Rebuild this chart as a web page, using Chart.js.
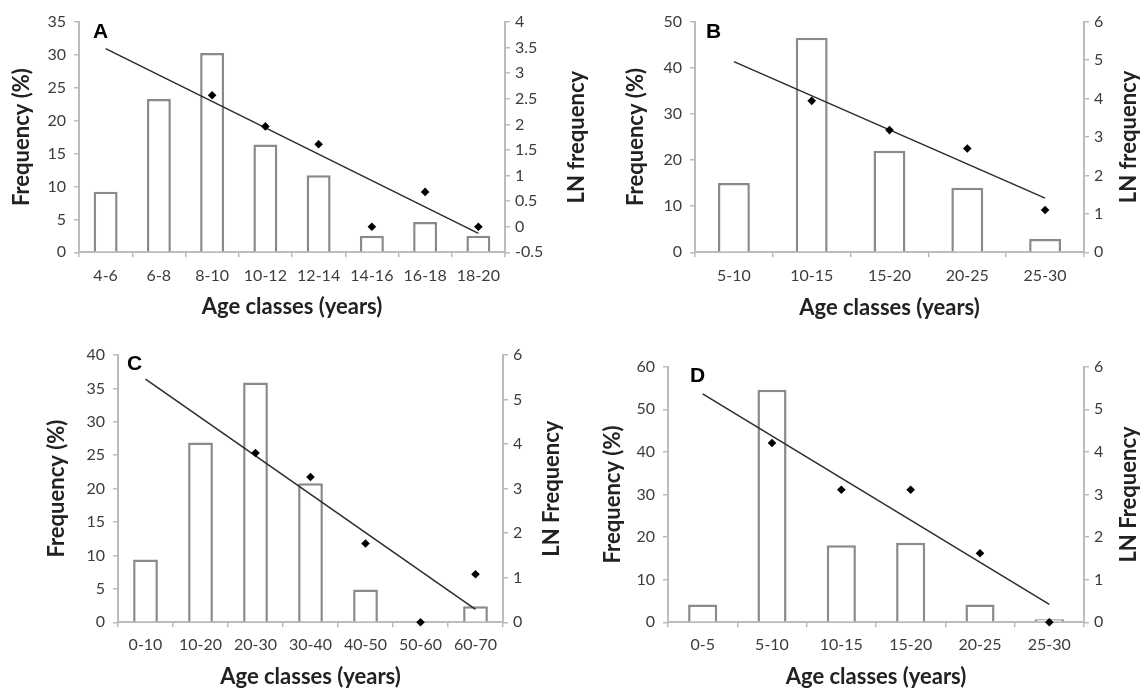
<!DOCTYPE html>
<html>
<head>
<meta charset="utf-8">
<script src="https://cdn.jsdelivr.net/npm/chart.js@4.4.1/dist/chart.umd.min.js"></script>
<style>
  body { margin: 0; background: #fff; }
  #wrap { position: relative; width: 1145px; height: 691px; overflow: hidden; background: #fff; }
  canvas { position: absolute; }
  .tag { position: absolute; font: bold 21px "Liberation Sans", Arial, sans-serif; line-height: 1; color: #000; }
</style>
</head>
<body>
<div id="wrap">
  <canvas id="chartA" width="600" height="330" style="left:0;top:0"></canvas>
  <canvas id="chartB" width="545" height="330" style="left:600px;top:0"></canvas>
  <canvas id="chartC" width="600" height="361" style="left:0;top:330px"></canvas>
  <canvas id="chartD" width="545" height="361" style="left:600px;top:330px"></canvas>
  <div class="tag" style="left:93px;top:20px">A</div>
  <div class="tag" style="left:706px;top:20px">B</div>
  <div class="tag" style="left:127px;top:352px">C</div>
  <div class="tag" style="left:690px;top:364px">D</div>
</div>
<script>
// panel A
const agesA = ["4-6", "6-8", "8-10", "10-12", "12-14", "14-16", "16-18", "18-20"];
const freqA = [9.2, 23.3, 30.3, 16.4, 11.7, 2.5, 4.6, 2.5];
const lnA = [null, null, 2.57, 1.96, 1.61, 0, 0.68, 0];
const fitA = [3.48, null, null, null, null, null, null, -0.13];
const freqTicksA = [0, 5, 10, 15, 20, 25, 30, 35];
const lnTicksA = [-0.5, 0, 0.5, 1, 1.5, 2, 2.5, 3, 3.5, 4];

// panel B
const agesB = ["5-10", "10-15", "15-20", "20-25", "25-30"];
const freqB = [15.0, 46.5, 22.0, 14.0, 2.9];
const lnB = [null, 3.94, 3.18, 2.7, 1.1];
const fitB = [4.96, null, null, null, 1.41];
const freqTicksB = [0, 10, 20, 30, 40, 50];
const lnTicksB = [0, 1, 2, 3, 4, 5, 6];

// panel C
const agesC = ["0-10", "10-20", "20-30", "30-40", "40-50", "50-60", "60-70"];
const freqC = [9.4, 26.9, 35.9, 20.8, 4.9, 0, 2.4];
const lnC = [null, null, 3.8, 3.26, 1.77, 0, 1.08];
const fitC = [5.46, null, null, null, null, null, 0.29];
const freqTicksC = [0, 5, 10, 15, 20, 25, 30, 35, 40];
const lnTicksC = [0, 1, 2, 3, 4, 5, 6];

// panel D
const agesD = ["0-5", "5-10", "10-15", "15-20", "20-25", "25-30"];
const freqD = [4.2, 54.6, 18.1, 18.7, 4.2, 0.7];
const lnD = [null, 4.21, 3.11, 3.11, 1.62, 0];
const fitD = [5.36, null, null, null, null, 0.42];
const freqTicksD = [0, 10, 20, 30, 40, 50, 60];
const lnTicksD = [0, 1, 2, 3, 4, 5, 6];

const AXIS_GREY = "#bcbcbc";
const TICK_TEXT = "#3c3c3c";
const TITLE_TEXT = "#222";
const FONT = "Lato";
const TITLE_SIZE = 22;
const TICK_SIZE = 16;

// right-hand title, read bottom to top like the left one
const rightTitle = {
  id: "rightTitle",
  afterDraw(chart, args, opts) {
    const { ctx, chartArea } = chart;
    ctx.save();
    ctx.translate(chartArea.right + opts.offset, (chartArea.top + chartArea.bottom) / 2);
    ctx.rotate(-Math.PI / 2);
    ctx.font = `bold ${TITLE_SIZE}px ${FONT}`;
    ctx.fillStyle = TITLE_TEXT;
    ctx.textAlign = "center";
    ctx.textBaseline = "middle";
    ctx.fillText(opts.text, 0, 0);
    ctx.restore();
  },
};

function axisGrid() {
  return { drawOnChartArea: false, drawTicks: true, tickLength: 5, color: AXIS_GREY, lineWidth: 1.5 };
}

function makePanel(id, p) {
  return new Chart(document.getElementById(id), {
    type: "bar",
    data: {
      labels: p.ages,
      datasets: [
        {
          type: "line",
          data: p.fit,
          yAxisID: "y1",
          borderColor: "#2b2b2b",
          borderWidth: 1.5,
          pointRadius: 0,
          spanGaps: true,
          order: 1,
        },
        {
          type: "line",
          data: p.ln,
          yAxisID: "y1",
          showLine: false,
          pointStyle: "rectRot",
          pointRadius: 4.3,
          backgroundColor: "#000",
          borderColor: "#000",
          borderWidth: 0,
          clip: false,
          order: 0,
        },
        {
          type: "bar",
          data: p.freq,
          yAxisID: "y",
          backgroundColor: "#fff",
          borderColor: "#8a8a8a",
          borderWidth: 2.5,
          barPercentage: p.barPct,
          categoryPercentage: 1,
          order: 2,
        },
      ],
    },
    options: {
      responsive: false,
      animation: false,
      layout: { padding: { top: p.top, left: 0, right: 0, bottom: 0 } },
      plugins: {
        legend: { display: false },
        tooltip: { enabled: false },
        rightTitle: { text: p.rightText, offset: p.rightOffset },
      },
      scales: {
        x: {
          grid: axisGrid(),
          border: { display: true, color: AXIS_GREY, width: 2 },
          ticks: { font: { family: FONT, size: TICK_SIZE }, color: TICK_TEXT, padding: p.xTickPad, maxRotation: 0, autoSkip: false },
          title: {
            display: true,
            text: "Age classes (years)",
            font: { family: FONT, size: TITLE_SIZE, weight: "bold" },
            color: TITLE_TEXT,
            padding: { top: 0, bottom: p.xPad },
          },
          afterFit: (s) => { s.height = p.xH; },
        },
        y: {
          position: "left",
          min: p.freqTicks[0],
          max: p.freqTicks[p.freqTicks.length - 1],
          grid: axisGrid(),
          border: { display: true, color: AXIS_GREY, width: 2 },
          ticks: { font: { family: FONT, size: TICK_SIZE }, color: TICK_TEXT, padding: 8, callback: (v) => String(v) },
          title: {
            display: true,
            text: "Frequency (%)",
            font: { family: FONT, size: TITLE_SIZE, weight: "bold" },
            color: TITLE_TEXT,
            padding: { top: p.leftPad, bottom: 0 },
          },
          afterBuildTicks: (s) => { s.ticks = p.freqTicks.map((v) => ({ value: v })); },
          afterFit: (s) => { s.width = p.leftW; },
        },
        y1: {
          position: "right",
          min: p.lnTicks[0],
          max: p.lnTicks[p.lnTicks.length - 1],
          grid: axisGrid(),
          border: { display: true, color: AXIS_GREY, width: 2 },
          ticks: { font: { family: FONT, size: TICK_SIZE }, color: TICK_TEXT, padding: 5, callback: (v) => String(v) },
          afterBuildTicks: (s) => { s.ticks = p.lnTicks.map((v) => ({ value: v })); },
          afterFit: (s) => { s.width = p.rightW; },
        },
      },
    },
    plugins: [rightTitle],
  });
}

makePanel("chartA", {
  ages: agesA, freq: freqA, ln: lnA, fit: fitA, freqTicks: freqTicksA, lnTicks: lnTicksA,
  rightText: "LN frequency", barPct: 0.45,
  top: 22, leftW: 79, rightW: 95, xH: 77.7, leftPad: 8.5, xPad: 9.8, xTickPad: 9, rightOffset: 72,
});

makePanel("chartB", {
  ages: agesB, freq: freqB, ln: lnB, fit: fitB, freqTicks: freqTicksB, lnTicks: lnTicksB,
  rightText: "LN frequency", barPct: 0.41,
  top: 21.7, leftW: 95, rightW: 61, xH: 77.7, leftPad: 22.8, xPad: 8.8, xTickPad: 8.5, rightOffset: 45,
});

makePanel("chartC", {
  ages: agesC, freq: freqC, ln: lnC, fit: fitC, freqTicks: freqTicksC, lnTicks: lnTicksC,
  rightText: "LN Frequency", barPct: 0.45,
  top: 25, leftW: 118, rightW: 97, xH: 68.7, leftPad: 43.5, xPad: 0.8, xTickPad: 8, rightOffset: 49,
});

makePanel("chartD", {
  ages: agesD, freq: freqD, ln: lnD, fit: fitD, freqTicks: freqTicksD, lnTicks: lnTicksD,
  rightText: "LN Frequency", barPct: 0.42,
  top: 36.7, leftW: 68, rightW: 61, xH: 68.7, leftPad: 0, xPad: 0.8, xTickPad: 8, rightOffset: 45,
});
</script>
</body>
</html>
